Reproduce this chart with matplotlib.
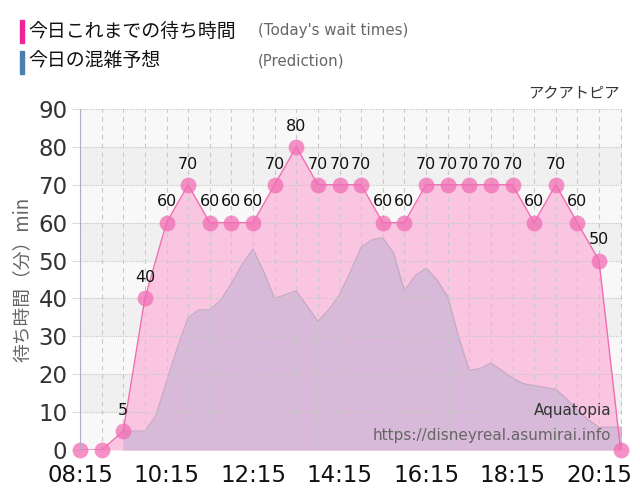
import numpy as np
import matplotlib.pyplot as plt

plt.rcParams['font.family'] = ['Noto Sans CJK JP', 'DejaVu Sans']

# actual wait times, every 30 minutes from 08:15
times = ['08:15', '08:45', '09:15', '09:45', '10:15', '10:45', '11:15', '11:45',
         '12:15', '12:45', '13:15', '13:45', '14:15', '14:45', '15:15', '15:45',
         '16:15', '16:45', '17:15', '17:45', '18:15', '18:45', '19:15', '19:45',
         '20:15', '20:45']
waits = [0, 0, 5, 40, 60, 70, 60, 60, 60, 70, 80, 70, 70, 70, 60, 60,
         70, 70, 70, 70, 70, 60, 70, 60, 50, 0]

# prediction, every 15 minutes from 09:15
pred_start = '09:15'
pred = [5, 5, 5, 9, 18, 27, 35, 37, 37, 39.5, 44, 49, 53, 47, 40, 41, 42, 38,
        34, 37, 41, 47, 53.5, 55.5, 56, 52, 42, 46, 48, 45, 40.5, 30, 21, 21.5,
        23, 21, 19, 17.5, 17, 16.5, 16, 13.5, 10.5, 8, 6, 6, 6]

xtick_labels = ['08:15', '10:15', '12:15', '14:15', '16:15', '18:15', '20:15']


def to_min(s):
    h, m = s.split(':')
    return int(h) * 60 + int(m)


x = np.array([to_min(t) for t in times])
y = np.array(waits)
px = to_min(pred_start) + 15 * np.arange(len(pred))
py = np.array(pred)

fig = plt.figure(figsize=(6.4, 5), dpi=100)
ax = fig.add_axes([0.125, 0.1, 0.847, 0.682])

x0, x1 = x[0], x[-1] + 2
ax.set_xlim(x0, x1)
ax.set_ylim(0, 90)

# background bands
for i in range(9):
    c = '#f0f0f0' if i % 2 == 1 else '#f8f8f8'
    ax.axhspan(i * 10, i * 10 + 10, color=c, zorder=0, lw=0)

# actual wait fill
ax.fill_between(x, y, 0, color='#f9c5e1', zorder=1, lw=0)

# prediction fill
ax.fill_between(px, py, 0, color='#d9b9d9', zorder=2, lw=0)
ax.plot(px, py, color='#c0a8c0', lw=0.8, zorder=2)
ax.plot([px[-1], px[-1]], [py[-1], 0], color='#c0a8c0', lw=0.8, zorder=2)

# grid
for v in x:
    ax.axvline(v, color='#c8c8c8', lw=0.8, ls=(0, (4, 4)), zorder=3)
for h in range(10, 91, 10):
    ax.axhline(h, color='#c8c8c8', lw=0.8, ls=(0, (1, 1)), zorder=3)

# actual line and markers
ax.plot(x, y, color='#f26db3', lw=1, zorder=4)
ax.scatter(x, y, s=130, color='#f26db3', alpha=0.75, lw=0, zorder=5, clip_on=False)
for xi, yi in zip(x, y):
    if yi > 0:
        ax.text(xi, yi + 3.5, str(yi), ha='center', va='bottom', fontsize=11.5,
                color='#111111', zorder=6, family=['DejaVu Sans'])

for s in ['top', 'right', 'bottom']:
    ax.spines[s].set_visible(False)
ax.spines['left'].set_color('#b8a8c8')
ax.spines['left'].set_zorder(6)

ax.set_xticks([to_min(t) for t in xtick_labels])
ax.set_xticklabels(xtick_labels, fontsize=16.5, color='#111111', family=['DejaVu Sans'])
ax.set_yticks(range(0, 91, 10))
ax.set_yticklabels([str(v) for v in range(0, 91, 10)], fontsize=16.5, color='#333333',
                   family=['DejaVu Sans'])
ax.tick_params(axis='x', length=0, pad=10)
ax.tick_params(axis='y', length=6, color='#dddddd', pad=3)
ax.set_ylabel('待ち時間（分）min', fontsize=13.5, color='#666666', labelpad=4)

ax.text(0.995, 1.02, 'アクアトピア', transform=ax.transAxes, ha='right', va='bottom',
        fontsize=11, color='#333333')
ax.text(0.98, 0.095, 'Aquatopia', transform=ax.transAxes, ha='right', va='bottom',
        fontsize=11, color='#333333', family=['DejaVu Sans'], zorder=7)
ax.text(0.98, 0.02, 'https://disneyreal.asumirai.info', transform=ax.transAxes,
        ha='right', va='bottom', fontsize=11, color='#666666', family=['DejaVu Sans'],
        zorder=7)

# legend-like header
fig.patches.append(plt.Rectangle((20 / 640, 1 - 43 / 500), 4 / 640, 23 / 500,
                                 transform=fig.transFigure, color='#f0249a'))
fig.patches.append(plt.Rectangle((20 / 640, 1 - 74 / 500), 4 / 640, 23 / 500,
                                 transform=fig.transFigure, color='#4a7fb0'))
fig.text(28 / 640, 1 - 31 / 500, '今日これまでの待ち時間', fontsize=13.6, va='center', color='#111111')
fig.text(28 / 640, 1 - 61 / 500, '今日の混雑予想', fontsize=13.6, va='center', color='#111111')
fig.text(258 / 640, 1 - 31 / 500, "(Today's wait times)", fontsize=10.8, va='center',
         color='#666666', family=['DejaVu Sans'])
fig.text(258 / 640, 1 - 61 / 500, '(Prediction)', fontsize=10.8, va='center',
         color='#666666', family=['DejaVu Sans'])

fig.savefig('out.png', dpi=100)
